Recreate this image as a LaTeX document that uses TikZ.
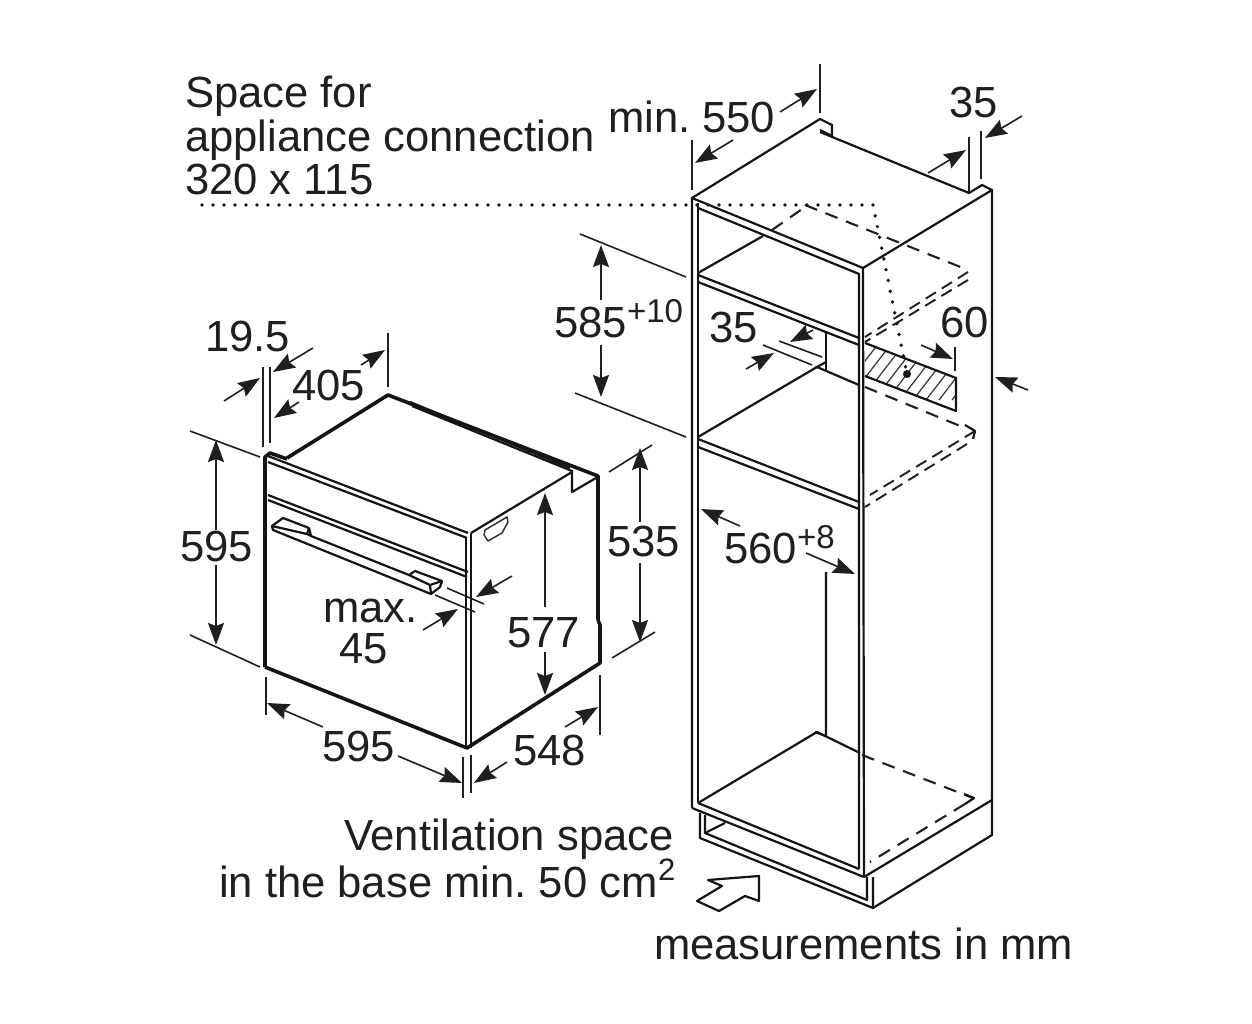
\documentclass[tikz,border=0pt]{standalone}
\usepackage{fontspec}
\setmainfont{Liberation Sans}
\usetikzlibrary{arrows.meta}
\tikzset{
 ln/.style={line width=2.2pt,black!92,line join=round},
 thk/.style={line width=3.6pt,black!92,line join=round},
 thn/.style={line width=1.6pt,black!88},
 dsh/.style={line width=2.1pt,black!88,dash pattern=on 13pt off 9pt},
 dsb/.style={line width=1.9pt,black!88,dash pattern=on 12pt off 7pt},
 dot/.style={line width=3.8pt,black!92,line cap=round,dash pattern=on 0pt off 11pt},
 dimar/.style={line width=1.6pt,black!88,-{Stealth[length=22pt,width=16pt,inset=3pt]}},
 lab/.style={anchor=base west,inner sep=0pt,outer sep=0pt,text=black!88,font=\fontsize{43.6}{50}\selectfont},
 sup/.style={anchor=base west,inner sep=0pt,outer sep=0pt,text=black!88,font=\fontsize{33}{38}\selectfont}
}
\begin{document}
\frenchspacing
\begin{tikzpicture}[x=1pt,y=-1pt]
\fill[white] (0,0) rectangle (1252,1024);
\useasboundingbox (0,0) rectangle (1252,1024);

% ---------- cabinet ----------
\draw[ln] (692,808) -- (692,198) -- (820,119) -- (832,125) -- (832,136) -- (820,130);
\draw[ln] (820,132) -- (969,193) -- (982,185) -- (992,190) -- (863,268);
\draw[ln] (992,190) -- (992,835) -- (873,908);
\draw[ln] (692,198) -- (863,268) -- (864,877);
\draw[ln] (698,208) -- (859,274) -- (859,869);
\draw[ln] (698,203) -- (698,803);
% upper shelf
\draw[ln] (698,273) -- (763,236);
\draw[dsh] (772,230) -- (805,207);
\draw[dsh] (805,205) -- (963,268);
\draw[ln] (698,275) -- (859,338);
\draw[ln] (698,282) -- (859,345);
\draw[dsb] (968,272) -- (865,337);
\draw[dsb] (968,280) -- (865,342);
% middle
\draw[ln] (826,333) -- (826,370);
\draw[ln] (826,362) -- (815,368);
\draw[ln] (698,437) -- (817,367) -- (859,385);
\draw[dsh] (865,387) -- (965,428);
\draw[ln] (965,425) -- (975,431) -- (973,439);
\draw[dsb] (975,431) -- (870,495);
\draw[dsb] (967,444) -- (865,507);
\draw[ln] (698,439) -- (859,502);
\draw[ln] (698,447) -- (859,509);
% hatched opening
\begin{scope}
\clip (865,343) -- (956,378) -- (956,411) -- (865,376) -- cycle;
\foreach \i in {0,...,12}{\draw[line width=1.2pt,black!80] (835+13*\i,400) -- (885+13*\i,335);}
\end{scope}
\draw[ln] (865,343) -- (956,378) -- (956,411) -- (865,376);
% dotted
\draw[dot] (202,205) -- (873,205) -- (907,374);
\fill[black!92] (907,374) circle (4pt);
% lower
\draw[ln] (826,572) -- (826,736) -- (815,732);
\draw[ln] (698,803) -- (817,732) -- (860,753);
\draw[dsh] (862,755) -- (973,798);
\draw[ln] (964,794) -- (974,798) -- (965,804);
\draw[dsh] (965,804) -- (870,862);
\draw[ln] (698,803) -- (859,869);
\draw[ln] (692,808) -- (864,877);
\draw[ln] (992,800) -- (864,877);
% plinth
\draw[ln] (700,813) -- (700,838) -- (873,908) -- (873,877);
\draw[ln] (705,815) -- (705,833) -- (867,900) -- (867,877);
\draw[ln] (705,833) -- (725,823);
% ventilation arrow
\draw[ln] (708,880) -- (759,876) -- (759,901) -- (745,896) -- (719,911) -- (697,901) -- (722,886) -- cycle;

% cabinet dimensions
\draw[thn] (820,64) -- (820,113);
\draw[thn] (692,140) -- (692,190);
\draw[dimar] (780,112) -- (817,89);
\draw[dimar] (733,140) -- (695,163);
\draw[thn] (969,137) -- (969,192);
\draw[thn] (981,131) -- (981,179);
\draw[dimar] (928,173) -- (966,150);
\draw[dimar] (1022,116) -- (985,138);
\draw[thn] (580,234) -- (686,277);
\draw[thn] (575,393) -- (686,437);
\draw[dimar] (601,300) -- (601,245);
\draw[dimar] (601,345) -- (601,397);
\draw[thn] (779,341) -- (822,357);
\draw[thn] (763,345) -- (812,365);
\draw[dimar] (813,330) -- (790,342);
\draw[dimar] (746,369) -- (774,353);
\draw[thn] (955,347) -- (955,371);
\draw[dimar] (921,345) -- (953,359);
\draw[dimar] (1028,390) -- (995,377);
\draw[dimar] (740,526) -- (701,509);
\draw[dimar] (806,553) -- (855,574);

% ---------- oven ----------
\draw[thk] (265,667) -- (265,457) -- (270,453) -- (287,459);
\draw[thk] (287,458) -- (388,395) -- (598,476) -- (598,620);
\draw[thk] (598,620) -- (600,625) -- (600,663) -- (467,748) -- (265,667);
\draw[ln] (410,402) -- (570,468);
\draw[ln] (412,406) -- (572,471);
\draw[ln] (572,472) -- (471,533);
\draw[ln] (572,470) -- (572,492) -- (596,478);
\draw[ln] (268,456) -- (468,533);
\draw[ln] (268,462) -- (467,538);
\draw[ln] (466,538) -- (466,748);
\draw[ln] (471,533) -- (471,748);
\draw[ln] (268,495) -- (468,572);
\draw[ln] (268,500) -- (467,577);
% handle
\draw[ln] (272,526) -- (283,518) -- (309,528) -- (311,536) -- (409,575) -- (415,571) -- (442,581) -- (440,587) -- (431,594) -- (273,530) -- cycle;
\draw[ln] (272,526) -- (307,534) -- (309,528);
\draw[ln] (307,534) -- (311,536);
\draw[ln] (409,575) -- (430,585) -- (442,581);
\draw[ln] (430,585) -- (431,594);
% side recess
\draw[line width=1.5pt,black!80,line join=round] (485,530) -- (507,517) -- (508,522) -- (502,533) -- (488,541) -- (484,535) -- cycle;

% oven dimensions
\draw[thn] (263,367) -- (263,447);
\draw[thn] (270,367) -- (270,443);
\draw[dimar] (224,401) -- (260,378);
\draw[dimar] (313,348) -- (273,372);
\draw[dimar] (299,402) -- (274,418);
\draw[dimar] (361,365) -- (385,350);
\draw[thn] (388,333) -- (388,387);
\draw[thn] (190,431) -- (260,457);
\draw[thn] (190,635) -- (260,667);
\draw[dimar] (216,530) -- (216,440);
\draw[dimar] (216,565) -- (216,645);
\draw[thn] (609,472) -- (652,445);
\draw[thn] (612,658) -- (655,632);
\draw[dimar] (640,522) -- (640,448);
\draw[dimar] (640,563) -- (640,642);
\draw[dimar] (545,607) -- (545,493);
\draw[dimar] (545,652) -- (545,695);
\draw[thn] (266,677) -- (266,715);
\draw[thn] (463,757) -- (463,798);
\draw[thn] (471,755) -- (471,793);
\draw[thn] (600,675) -- (600,735);
\draw[dimar] (323,727) -- (267,703);
\draw[dimar] (398,756) -- (462,783);
\draw[dimar] (507,762) -- (474,783);
\draw[dimar] (565,727) -- (598,707);
\draw[dimar] (512,576) -- (476,597);
\draw[dimar] (423,630) -- (458,609);
\draw[thn] (447,588) -- (484,604);
\draw[thn] (435,595) -- (475,612);

% ---------- text ----------
\node[lab] (t1) at (185,108) {Space for};
\node[lab] (t2) at (185,152) {appliance connection};
\node[lab] (t3) at (185,195) {320 x 115};
\node[lab] (t4) at (608,133) {min. 550};
\node[lab] (t5) at (949,118) {35};
\node[lab] (t6) at (205,351) {19.5};
\node[lab] (t7) at (292,400) {405};
\node[lab] (t8) at (180,561) {595};
\node[lab] (t9) at (607,556) {535};
\node[lab] (t10) at (323,622) {max.};
\node[lab] (t11) at (339,663) {45};
\node[lab] (t12) at (507,647) {577};
\node[lab] (t13) at (322,761) {595};
\node[lab] (t14) at (513,765) {548};
\node[lab] (t15) at (554,337) {585};
\node[sup] (t16) at (627,322) {+10};
\node[lab] (t17) at (709,342) {35};
\node[lab] (t18) at (940,337) {60};
\node[lab] (t19) at (724,563) {560};
\node[sup] (t20) at (797,548) {+8};
\node[lab] (t21) at (344,850) {Ventilation space};
\node[lab] (t22) at (219,897) {in the base min. 50 cm};
\node[sup,font=\fontsize{31}{36}\selectfont] (t23) at (658,880) {2};
\node[lab] (t24) at (654,959) {measurements in mm};
\end{tikzpicture}
\end{document}
